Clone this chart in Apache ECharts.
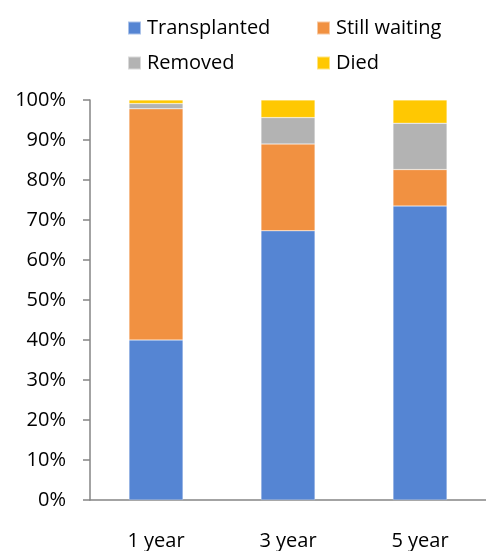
<!DOCTYPE html>
<html>
<head>
<meta charset="utf-8">
<script src="https://cdn.jsdelivr.net/npm/echarts@6/dist/echarts.min.js"></script>
<style>
  html,body{margin:0;padding:0;background:#fff;}
  #main{width:486px;height:551px;}
</style>
</head>
<body>
<div id="main"></div>
<script>
// data
const years = ['1 year', '3 year', '5 year'];
const transplanted = [40.0, 67.3, 73.5];
const stillWaiting = [57.8, 21.7, 9.1];
const removed = [1.3, 6.6, 11.6];
const died = [0.9, 4.4, 5.8];
const yTicks = [0, 10, 20, 30, 40, 50, 60, 70, 80, 90, 100];

const font = 'Open Sans';

function bar(name, data, color){
  return {
    name: name,
    type: 'bar',
    stack: 'all',
    barWidth: 54,
    data: data,
    itemStyle: {color: color, borderColor: 'rgba(255,255,255,0.5)', borderWidth: 0.5}
  };
}

const legendText = {fontSize: 20, color: '#000', fontFamily: font, padding: [0, 0, 0, 1]};

const option = {
  animation: false,
  legend: [
    {
      left: 127, top: 18, orient: 'vertical', padding: 0,
      icon: 'rect', itemWidth: 13, itemHeight: 13, itemGap: 15,
      data: ['Transplanted', 'Removed'],
      textStyle: legendText
    },
    {
      left: 316, top: 18, orient: 'vertical', padding: 0,
      icon: 'rect', itemWidth: 13, itemHeight: 13, itemGap: 15,
      data: ['Still waiting', 'Died'],
      textStyle: legendText
    }
  ],
  grid: {left: 90, top: 100, width: 400, height: 402},
  xAxis: {
    type: 'category',
    data: years,
    axisLine: {lineStyle: {color: '#858585', width: 1.5}},
    axisTick: {show: false},
    axisLabel: {fontSize: 20, color: '#000', fontFamily: font, margin: 31}
  },
  yAxis: {
    type: 'value',
    min: yTicks[0],
    max: yTicks[yTicks.length - 1],
    interval: 10,
    splitLine: {show: false},
    axisLine: {show: true, lineStyle: {color: '#858585', width: 1.5}},
    axisTick: {show: true, length: 7, lineStyle: {color: '#858585', width: 1.5}},
    axisLabel: {fontSize: 20, color: '#000', fontFamily: font, margin: 24, formatter: '{value}%'}
  },
  series: [
    bar('Transplanted', transplanted, '#5585D3'),
    bar('Still waiting', stillWaiting, '#F19141'),
    bar('Removed', removed, '#B3B3B3'),
    bar('Died', died, '#FFC802')
  ]
};

echarts.init(document.getElementById('main')).setOption(option);
</script>
</body>
</html>
